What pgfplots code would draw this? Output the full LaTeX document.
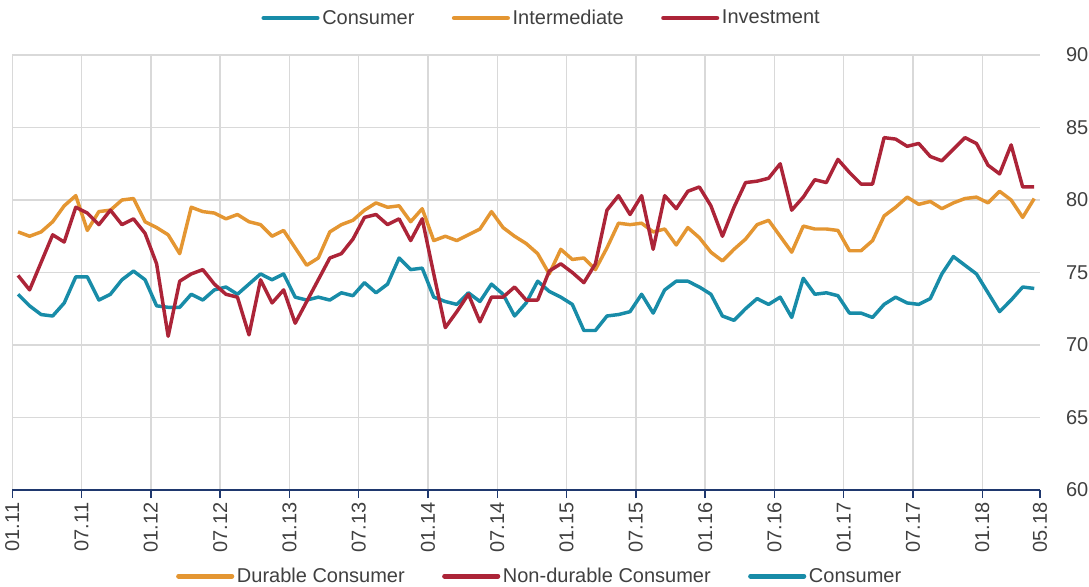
\documentclass[border=0pt]{standalone}
\usepackage{pgfplots}
\pgfplotsset{compat=1.18}
\usepackage{pgfplotstable}
\usepackage{fontspec}
\setmainfont{Liberation Sans}

\definecolor{cons}{RGB}{24,140,168}
\definecolor{inter}{RGB}{228,150,50}
\definecolor{inv}{RGB}{172,36,56}
\definecolor{navy}{RGB}{31,56,110}
\definecolor{gridc}{RGB}{217,217,217}
\definecolor{txt}{RGB}{64,64,64}

% monthly values, 01.11 ... 05.18 (t = month index + 0.5)
\pgfplotstableread{
t    cons  inter inv
0.5  73.5  77.8  74.8
1.5  72.7  77.5  73.8
2.5  72.1  77.8  75.7
3.5  72.0  78.5  77.6
4.5  72.9  79.6  77.1
5.5  74.7  80.3  79.5
6.5  74.7  77.9  79.1
7.5  73.1  79.2  78.3
8.5  73.5  79.3  79.3
9.5  74.5  80.0  78.3
10.5 75.1  80.1  78.7
11.5 74.5  78.5  77.7
12.5 72.7  78.1  75.6
13.5 72.6  77.6  70.6
14.5 72.6  76.3  74.4
15.5 73.5  79.5  74.9
16.5 73.1  79.2  75.2
17.5 73.8  79.1  74.2
18.5 74.0  78.7  73.5
19.5 73.5  79.0  73.3
20.5 74.2  78.5  70.7
21.5 74.9  78.3  74.5
22.5 74.5  77.5  72.9
23.5 74.9  77.9  73.8
24.5 73.3  76.7  71.5
25.5 73.1  75.5  73.0
26.5 73.3  76.0  74.5
27.5 73.1  77.8  76.0
28.5 73.6  78.3  76.3
29.5 73.4  78.6  77.3
30.5 74.3  79.3  78.8
31.5 73.6  79.8  79.0
32.5 74.2  79.5  78.3
33.5 76.0  79.6  78.7
34.5 75.2  78.5  77.2
35.5 75.3  79.4  78.7
36.5 73.3  77.2  74.9
37.5 73.0  77.5  71.2
38.5 72.8  77.2  72.3
39.5 73.6  77.6  73.5
40.5 73.0  78.0  71.6
41.5 74.2  79.2  73.3
42.5 73.5  78.1  73.3
43.5 72.0  77.5  74.0
44.5 72.9  77.0  73.1
45.5 74.4  76.3  73.1
46.5 73.7  74.9  75.1
47.5 73.3  76.6  75.6
48.5 72.8  75.9  75.0
49.5 71.0  76.0  74.3
50.5 71.0  75.2  75.6
51.5 72.0  76.7  79.3
52.5 72.1  78.4  80.3
53.5 72.3  78.3  79.0
54.5 73.5  78.4  80.3
55.5 72.2  77.8  76.6
56.5 73.8  78.0  80.3
57.5 74.4  76.9  79.4
58.5 74.4  78.1  80.6
59.5 74.0  77.4  80.9
60.5 73.5  76.4  79.6
61.5 72.0  75.8  77.5
62.5 71.7  76.6  79.5
63.5 72.5  77.3  81.2
64.5 73.2  78.3  81.3
65.5 72.8  78.6  81.5
66.5 73.3  77.5  82.5
67.5 71.9  76.4  79.3
68.5 74.6  78.2  80.2
69.5 73.5  78.0  81.4
70.5 73.6  78.0  81.2
71.5 73.4  77.9  82.8
72.5 72.2  76.5  81.9
73.5 72.2  76.5  81.1
74.5 71.9  77.2  81.1
75.5 72.8  78.9  84.3
76.5 73.3  79.5  84.2
77.5 72.9  80.2  83.7
78.5 72.8  79.7  83.9
79.5 73.2  79.9  83.0
80.5 74.9  79.4  82.7
81.5 76.1  79.8  83.5
82.5 75.5  80.1  84.3
83.5 74.9  80.2  83.9
84.5 73.6  79.8  82.4
85.5 72.3  80.6  81.8
86.5 73.1  80.0  83.8
87.5 74.0  78.8  80.9
88.5 73.9  80.1  80.9
}\capdata

\pgfplotsset{
  legimg/.style={
    legend image code/.code={\draw[##1, line width=3.6pt, line cap=round] (0pt,0pt) -- (40pt,0pt);}
  },
  legsty/.style={
    draw=none, fill=none, inner sep=0pt, text=txt,
    font=\fontsize{15}{18}\selectfont, legend columns=3,
    /tikz/every even column/.append style={column sep=26pt},
  },
}

\begin{document}
\begin{tikzpicture}
\path[use as bounding box] (0,0) rectangle (816.75pt,439.5pt);
\begin{axis}[
  at={(9.2pt,72pt)}, anchor=south west,
  scale only axis, width=770.8pt, height=326.25pt,
  xmin=0, xmax=89, ymin=60, ymax=90,
  axis x line*=bottom, axis y line*=right,
  x axis line style={draw=navy, line width=1.3pt, -},
  y axis line style={draw=none, -},
  xtick={0,6,...,84},
  xticklabels={01.11,07.11,01.12,07.12,01.13,07.13,01.14,07.14,01.15,07.15,01.16,07.16,01.17,07.17,01.18},
  extra x ticks={89}, extra x tick labels={05.18},
  extra x tick style={grid=none},
  ytick={60,65,...,90},
  grid=major,
  major grid style={draw=gridc, line width=1pt},
  major x grid style={draw=gridc, line width=1pt},
  tick align=outside, major tick length=6pt,
  major x tick style={draw=navy, line width=1pt},
  ytick style={draw=none},
  xticklabel style={rotate=90, anchor=east, text=txt, font=\fontsize{15}{18}\selectfont},
  yticklabel style={anchor=west, xshift=10pt, text=txt, font=\fontsize{15}{18}\selectfont},
  /pgf/number format/assume math mode=true,
  no markers, legimg,
  legend style={legsty, at={(0.5154,1.085)}, anchor=center},
]
\addplot[cons, line width=2.6pt, line join=round] table[x=t, y=cons] {\capdata};
\addlegendentry{Consumer}
\addplot[inter, line width=2.6pt, line join=round] table[x=t, y=inter] {\capdata};
\addlegendentry{Intermediate}
\addplot[inv, line width=2.6pt, line join=round] table[x=t, y=inv] {\capdata};
\addlegendentry{Investment}
\end{axis}
\begin{axis}[
  at={(9.2pt,72pt)}, anchor=south west,
  scale only axis, width=770.8pt, height=326.25pt,
  hide axis, xmin=0, xmax=1, ymin=0, ymax=1, legimg,
  legend style={legsty, at={(0.5135,-0.198)}, anchor=center},
]
\addlegendimage{inter}
\addlegendentry{Durable Consumer}
\addlegendimage{inv}
\addlegendentry{Non-durable Consumer}
\addlegendimage{cons}
\addlegendentry{Consumer}
\end{axis}
\end{tikzpicture}
\end{document}
